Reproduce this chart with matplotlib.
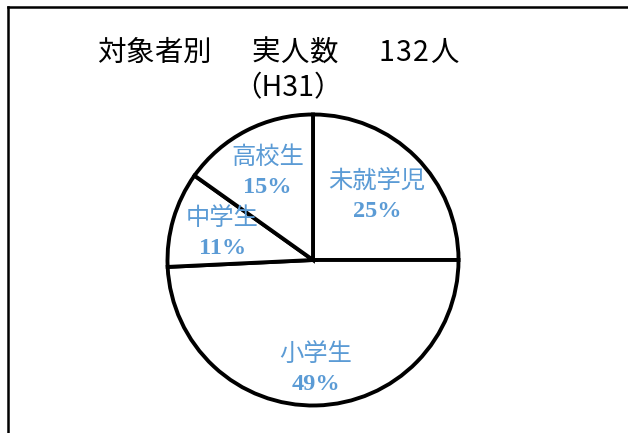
import matplotlib
matplotlib.use("Agg")
import matplotlib.pyplot as plt
from matplotlib.lines import Line2D
import numpy as np

categories = ["未就学児", "小学生", "中学生", "高校生"]
counts = [33, 65, 14, 20]
title_parts = ["対象者別", "実人数", "132人"]
subtitle = "（H31）"

W, H = 628, 433
fig = plt.figure(figsize=(W / 100, H / 100), dpi=100)
ax = fig.add_axes([0, 0, 1, 1])

cx, cy, r = 313, H - 260, 145.5
wedges, _ = ax.pie(counts, startangle=90, counterclock=False, center=(cx, cy),
                   radius=r, colors=["white"] * 4,
                   wedgeprops=dict(edgecolor="black", linewidth=2.8), frame=True)
ax.set_xlim(0, W)
ax.set_ylim(0, H)
ax.set_aspect("equal")
ax.axis("off")

blue = "#5B9BD5"
total = sum(counts)
label_r = [0.62, 0.75, 0.65, 0.68]
for w, name, c, lr in zip(wedges, categories, counts, label_r):
    th = np.deg2rad((w.theta1 + w.theta2) / 2)
    x = cx + lr * r * np.cos(th)
    y = cy + lr * r * np.sin(th)
    ax.text(x, y + 15, name, ha="center", va="center", color=blue,
            fontsize=17.5, family=["Noto Sans CJK JP", "DejaVu Sans"])
    ax.text(x, y - 15, f"{round(c / total * 100)}%", ha="center", va="center",
            color=blue, fontsize=17.5, fontweight="bold", family=["Liberation Serif"])

# title, letter-spaced like the reference
tfont = dict(fontsize=20.5, family=["Noto Sans CJK JP", "DejaVu Sans"], color="black",
             ha="center", va="center")
starts = [111, 266, 386]
for part, x0 in zip(title_parts, starts):
    x = x0
    for ch in part:
        fig.text(x / W, 1 - 53 / H, ch, **tfont)
        if ch.isdigit():
            x += 17.5
        else:
            x += 28.5
        if ch.isdigit() and part.index(ch) == len(part) - 2:
            x += 6
fig.text(288 / W, 1 - 88 / H, subtitle, **tfont)

fig.add_artist(Line2D([7.5 / W, 7.5 / W], [0, 1 - 6.5 / H], transform=fig.transFigure,
                      color="black", linewidth=1.8))
fig.add_artist(Line2D([7.5 / W, 1], [1 - 6.5 / H, 1 - 6.5 / H], transform=fig.transFigure,
                      color="black", linewidth=1.8))

fig.savefig("out.png", dpi=100, facecolor="white")
